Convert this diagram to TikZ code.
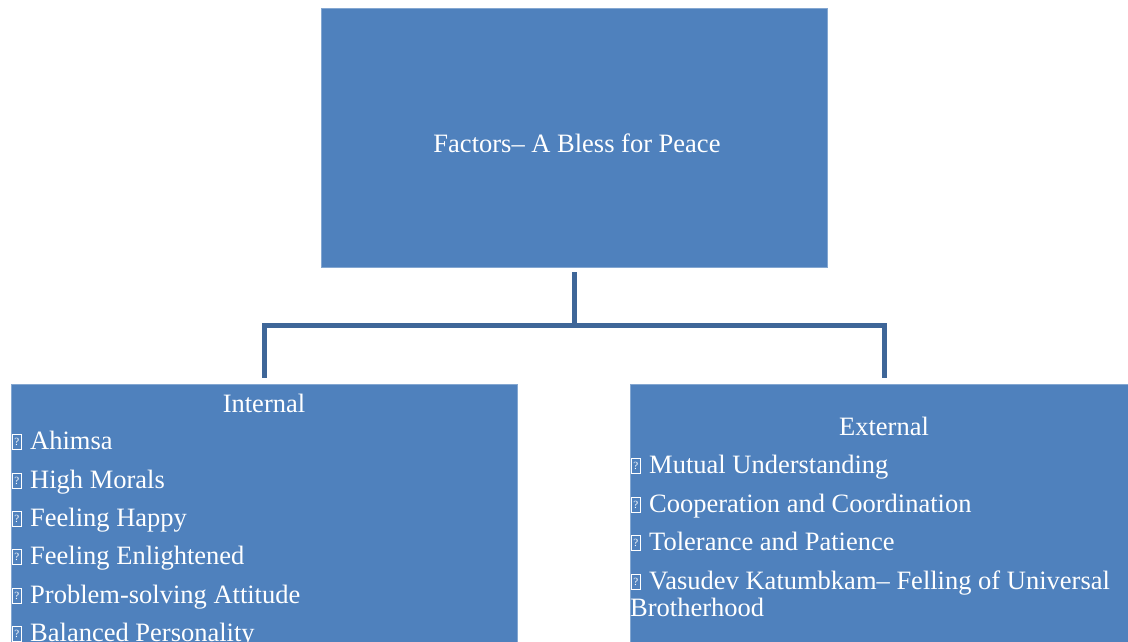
\documentclass[tikz,border=0pt]{standalone}
\usepackage{fontspec}
\setmainfont{Liberation Serif}
\definecolor{boxblue}{HTML}{4F81BD}
\definecolor{connblue}{HTML}{3E6698}
\tikzset{
  box/.style={fill=boxblue, draw=boxblue!70!white, line width=0.6pt, inner sep=0pt},
  conn/.style={draw=connblue, line width=5pt, line join=miter, line cap=rect},
  txt/.style={text=white, font=\fontsize{26.5}{30}\selectfont, inner sep=0pt, anchor=base west},
  head/.style={text=white, font=\fontsize{26.5}{30}\selectfont, inner sep=0pt, anchor=base},
  qbox/.style={draw=white, line width=0.8pt, text=white, inner sep=0pt,
    minimum width=9pt, minimum height=15pt, anchor=south west,
    font=\fontsize{11}{11}\selectfont},
}
\begin{document}
\begin{tikzpicture}[x=1pt,y=-1pt]
\useasboundingbox (0,0) rectangle (1128,642);
\fill[white] (0,0) rectangle (1128,642);
% boxes
\node[box, minimum width=506, minimum height=259] (top) at (574,137.5) {};
\node[box, minimum width=506, minimum height=300, anchor=north west] (left) at (11,383.5) {};
\node[box, minimum width=508, minimum height=300, anchor=north west] (right) at (630,383.5) {};
% connectors
\draw[conn] ([yshift=-7.5pt]top.south) -- ([yshift=-58pt]top.south) coordinate (mid);
\draw[conn] ([yshift=8pt]left.north) |- (mid) -| ([yshift=8pt]right.north);
% texts
\node[head] (title) at (577,152) {Factors– A Bless for Peace};
\node[head] (internal) at (264,412) {Internal};
\node[txt] (i1) at (30,449) {Ahimsa};
\node[txt] (i2) at (30,488) {High Morals};
\node[txt] (i3) at (30,526) {Feeling Happy};
\node[txt] (i4) at (30,564) {Feeling Enlightened};
\node[txt] (i5) at (30,603) {Problem-solving Attitude};
\node[txt] (i6) at (30,641) {Balanced Personality};
\node[head] (external) at (884,435) {External};
\node[txt] (e1) at (649,473) {Mutual Understanding};
\node[txt] (e2) at (649,512) {Cooperation and Coordination};
\node[txt] (e3) at (649,550) {Tolerance and Patience};
\node[txt] (e4) at (649,589) {Vasudev Katumbkam– Felling of Universal};
\node[txt] (e5) at (630,616) {Brotherhood};
% bullet placeholders
\foreach \n in {i1,i2,i3,i4,i5,i6,e1,e2,e3,e4}
  \node[qbox] (q\n) at ([xshift=-18pt,yshift=-1pt]\n.base west) {?};
\end{tikzpicture}
\end{document}
